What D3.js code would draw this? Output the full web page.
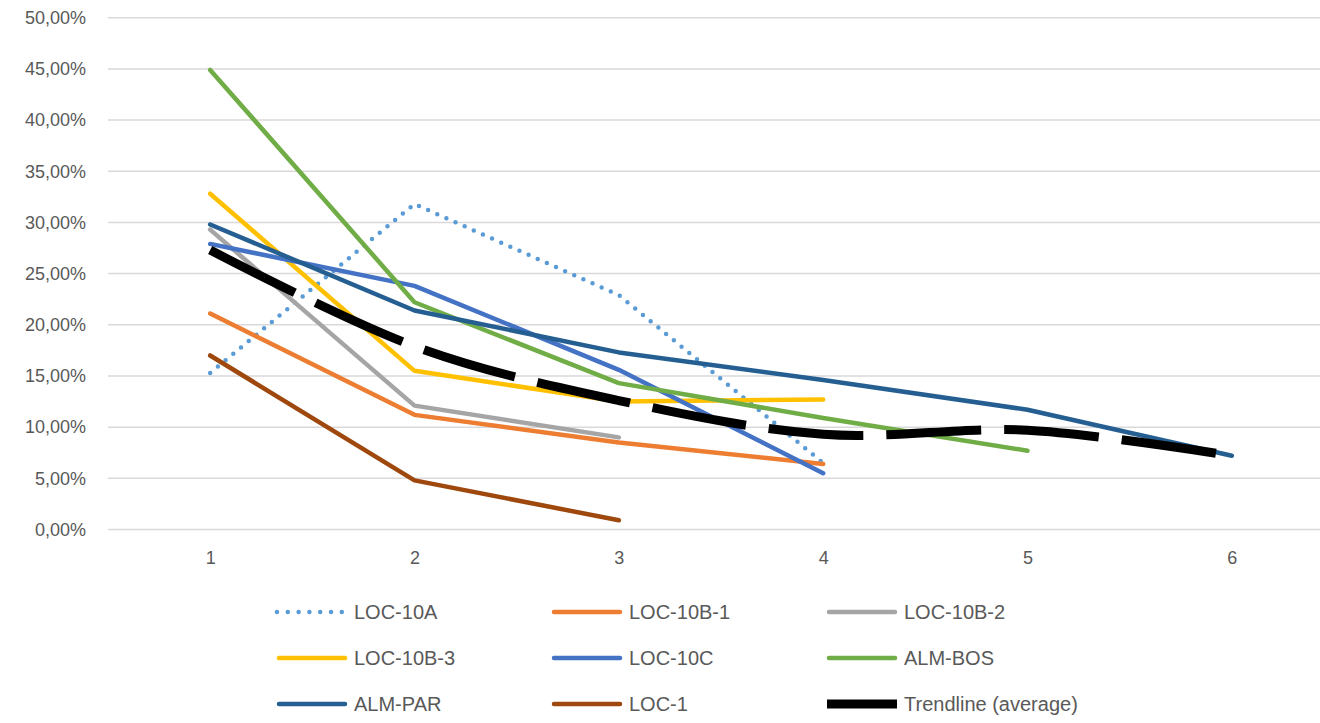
<!DOCTYPE html>
<html>
<head>
<meta charset="utf-8">
<script src="https://cdn.jsdelivr.net/npm/d3@7"></script>
<style>
  html, body { margin: 0; padding: 0; background: #fff; }
  svg { display: block; }
  text { font-family: "Liberation Sans", Arial, sans-serif; fill: #595959; }
</style>
</head>
<body>
<svg id="chart" width="1320" height="723"></svg>
<script>
// Sampling stages along the x axis
const stages = [1, 2, 3, 4, 5, 6];
const yTicks = [0, 0.05, 0.10, 0.15, 0.20, 0.25, 0.30, 0.35, 0.40, 0.45, 0.50];

// Share per stage for each site
const loc10A  = [0.153, 0.318, 0.229, 0.065];
const loc10B1 = [0.211, 0.112, 0.085, 0.064];
const loc10B2 = [0.293, 0.121, 0.090];
const loc10B3 = [0.328, 0.155, 0.125, 0.127];
const loc10C  = [0.279, 0.238, 0.156, 0.055];
const almBos  = [0.449, 0.222, 0.143, 0.109, 0.077];
const almPar  = [0.298, 0.214, 0.173, 0.146, 0.117, 0.072];
const loc1    = [0.170, 0.048, 0.009];
const trendAvg = [0.273, 0.179, 0.126, 0.093, 0.097, 0.072];

const seriesNames  = ["LOC-10A", "LOC-10B-1", "LOC-10B-2", "LOC-10B-3", "LOC-10C", "ALM-BOS", "ALM-PAR", "LOC-1", "Trendline (average)"];
const seriesValues = [loc10A, loc10B1, loc10B2, loc10B3, loc10C, almBos, almPar, loc1, trendAvg];
const seriesColors = ["#5B9BD5", "#ED7D31", "#A5A5A5", "#FFC000", "#4472C4", "#70AD47", "#255E91", "#9E480E", "#000000"];

const svg = d3.select("#chart");

const x = d3.scalePoint().domain(stages).range([108, 1334]).padding(0.5);
const y = d3.scaleLinear().domain([0, 0.5]).range([529.5, 17.7]);

const locale = d3.formatLocale({ decimal: ",", thousands: ".", grouping: [3], currency: ["", " €"] });
const pct = locale.format(".2%");

// Horizontal gridlines
svg.append("g")
  .selectAll("line")
  .data(yTicks)
  .join("line")
  .attr("x1", 108).attr("x2", 1320)
  .attr("y1", d => y(d)).attr("y2", d => y(d))
  .attr("stroke", "#D9D9D9").attr("stroke-width", 1.5);

// Y axis labels
const yAxis = d3.axisLeft(y).tickValues(yTicks).tickFormat(pct).tickSize(0).tickPadding(0);
svg.append("g")
  .attr("transform", "translate(86,0)")
  .call(yAxis)
  .call(g => g.select(".domain").remove())
  .call(g => g.selectAll("text").attr("font-size", 18).attr("fill", "#595959")
    .attr("font-family", "Liberation Sans, Arial, sans-serif"));

// X axis labels
const xAxis = d3.axisBottom(x).tickSize(0).tickPadding(0);
svg.append("g")
  .attr("transform", "translate(0,551)")
  .call(xAxis)
  .call(g => g.select(".domain").remove())
  .call(g => g.selectAll("text").attr("font-size", 18).attr("fill", "#595959")
    .attr("font-family", "Liberation Sans, Arial, sans-serif"));

const lineStraight = d3.line().x((d, i) => x(stages[i])).y(d => y(d));
const lineSmooth = d3.line().x((d, i) => x(stages[i])).y(d => y(d)).curve(d3.curveCatmullRom.alpha(0));

const lines = svg.append("g").attr("fill", "none");
seriesValues.forEach((vals, k) => {
  const isTrend = k === seriesValues.length - 1;
  const p = lines.append("path")
    .attr("d", isTrend ? lineSmooth(vals) : lineStraight(vals))
    .attr("stroke", seriesColors[k]);
  if (isTrend) {
    p.attr("stroke-width", 9).attr("stroke-linecap", "butt").attr("stroke-dasharray", "95 23");
  } else if (k === 0) {
    p.attr("stroke-width", 4.5).attr("stroke-linecap", "round").attr("stroke-dasharray", "0 10");
  } else {
    p.attr("stroke-width", 4.5).attr("stroke-linecap", "round").attr("stroke-linejoin", "round");
  }
});

// Legend: three columns, three rows
const legend = svg.append("g");
const colX = [277, 552, 827];
const rowY = [612, 658, 704];
seriesNames.forEach((name, k) => {
  const cx = colX[k % 3], cy = rowY[Math.floor(k / 3)];
  const isTrend = k === seriesNames.length - 1;
  const g = legend.append("g");
  if (isTrend) {
    g.append("rect").attr("x", cx).attr("y", cy - 4.5).attr("width", 70).attr("height", 9)
      .attr("fill", seriesColors[k]);
  } else if (k === 0) {
    g.append("line").attr("x1", cx).attr("x2", cx + 70).attr("y1", cy).attr("y2", cy)
      .attr("stroke", seriesColors[k]).attr("stroke-width", 4.5)
      .attr("stroke-linecap", "round").attr("stroke-dasharray", "0 10.8");
  } else {
    g.append("line").attr("x1", cx + 2).attr("x2", cx + 68).attr("y1", cy).attr("y2", cy)
      .attr("stroke", seriesColors[k]).attr("stroke-width", 4.5).attr("stroke-linecap", "round");
  }
  g.append("text").attr("x", cx + 77).attr("y", cy).attr("dy", "0.35em")
    .attr("font-size", 20).text(name);
});
</script>
</body>
</html>
